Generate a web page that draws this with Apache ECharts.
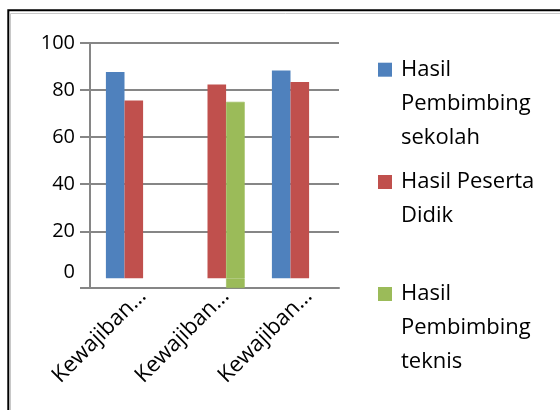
<!DOCTYPE html>
<html>
<head>
<meta charset="utf-8">
<script src="https://cdn.jsdelivr.net/npm/echarts@6/dist/echarts.min.js"></script>
<style>
html,body{margin:0;padding:0;background:#fff;}
#chart{width:560px;height:410px;}
</style>
</head>
<body>
<div id="chart"></div>
<script>
// ---- data ----
const categories = ['Kewajiban…', 'Kewajiban…', 'Kewajiban…'];
const seriesNames = ['Hasil Pembimbing sekolah', 'Hasil Peserta Didik', 'Hasil Pembimbing teknis'];
const legendLines = [['Hasil', 'Pembimbing', 'sekolah'], ['Hasil Peserta', 'Didik'], ['Hasil', 'Pembimbing', 'teknis']];
const pembimbingSekolah = [87.7, null, 88.3];
const pesertaDidik = [75.6, 82.4, 83.4];
const pembimbingTeknis = [null, 75.0, null];
const yTickLabels = [0, 20, 40, 60, 80, 100];
const yMin = -4.1;
const yMax = 100;

const colors = ['#4F81BD', '#C0504D', '#9BBB59'];
const GRID = '#868686';
const FONT = 'Open Sans';
const LH = 34;

const chart = echarts.init(document.getElementById('chart'), null, {renderer: 'canvas'});

function makeLegend(i, top) {
  const n = legendLines[i].length;
  const pt = (n - 1) * LH;
  return {
    data: [seriesNames[i]],
    orient: 'vertical',
    left: 378,
    top: top,
    padding: 0,
    itemWidth: 14,
    itemHeight: 14,
    icon: 'rect',
    selectedMode: false,
    formatter: () => legendLines[i].map(s => '{t|' + s + '}').join('\n'),
    itemStyle: {borderWidth: 0},
    textStyle: {
      fontFamily: FONT, fontSize: 22, color: '#000', lineHeight: LH,
      padding: [pt, 0, 0, 4],
      rich: {t: {fontFamily: FONT, fontSize: 22, color: '#000', lineHeight: LH}}
    }
  };
}

const greenStyle = {color: colors[2], borderColor: colors[2], borderWidth: 0.6};

const option = {
  animation: false,
  color: colors,
  graphic: [
    {type: 'rect', shape: {x: 8.3, y: 10.3, width: 600, height: 500}, style: {fill: 'none', stroke: '#000', lineWidth: 2}, silent: true},
    {type: 'rect', shape: {x: 10.5, y: 13.5, width: 600, height: 500}, style: {fill: 'none', stroke: '#c8c8c8', lineWidth: 1}, silent: true}
  ],
  grid: {left: 90, right: 221, top: 43, bottom: 122, containLabel: false},
  legend: [makeLegend(0, 62.7 - 78), makeLegend(1, 175 - 44), makeLegend(2, 287 - 78)],
  xAxis: {
    type: 'category',
    data: categories,
    axisLine: {show: true, onZero: false, lineStyle: {color: GRID, width: 2}},
    axisTick: {show: false},
    axisLabel: {
      rotate: 45, margin: -6.5, verticalAlign: 'top', lineHeight: 31.5,
      fontFamily: FONT, fontSize: 22, color: '#000', interval: 0
    },
    splitLine: {show: false}
  },
  yAxis: {
    type: 'value',
    min: yMin,
    max: yMax,
    axisLine: {show: true, onZero: false, lineStyle: {color: GRID, width: 2}},
    axisTick: {show: true, inside: false, length: 10, lineStyle: {color: GRID, width: 2},
      customValues: [yMin].concat(yTickLabels.slice(1))},
    axisLabel: {
      customValues: yTickLabels, margin: 15,
      fontFamily: FONT, fontSize: 20, color: '#000',
      formatter: v => v === 0 ? '{z|0}' : String(v),
      rich: {z: {fontFamily: FONT, fontSize: 20, color: '#000', padding: [0, 0, 13, 0]}}
    },
    splitLine: {show: false}
  },
  series: [
    {name: 'spacer', type: 'bar', data: [null, null, null], barWidth: 4.6, barGap: '0%',
      markLine: {
        silent: true, symbol: ['none', 'none'], z: 1, animation: false,
        label: {show: false},
        lineStyle: {color: GRID, width: 2, type: 'solid'},
        emphasis: {disabled: true},
        data: yTickLabels.slice(1).map(v => ({yAxis: v}))
      }},
    {name: seriesNames[0], type: 'bar', data: pembimbingSekolah, barWidth: 18.6, barGap: '0%', itemStyle: {color: colors[0]}, z: 3},
    {name: seriesNames[1], type: 'bar', data: pesertaDidik, barWidth: 18.6, barGap: '0%', itemStyle: {color: colors[1]}, z: 3},
    {name: seriesNames[2], type: 'bar', data: pembimbingTeknis, barWidth: 18.6, barGap: '0%', stack: 'teknis', itemStyle: greenStyle, z: 3},
    {name: 'teknis-base', type: 'bar', data: pembimbingTeknis.map(v => v == null ? null : yMin), barWidth: 18.6, barGap: '0%', stack: 'teknis', itemStyle: greenStyle, z: 3}
  ]
};
chart.setOption(option);
</script>
</body>
</html>
